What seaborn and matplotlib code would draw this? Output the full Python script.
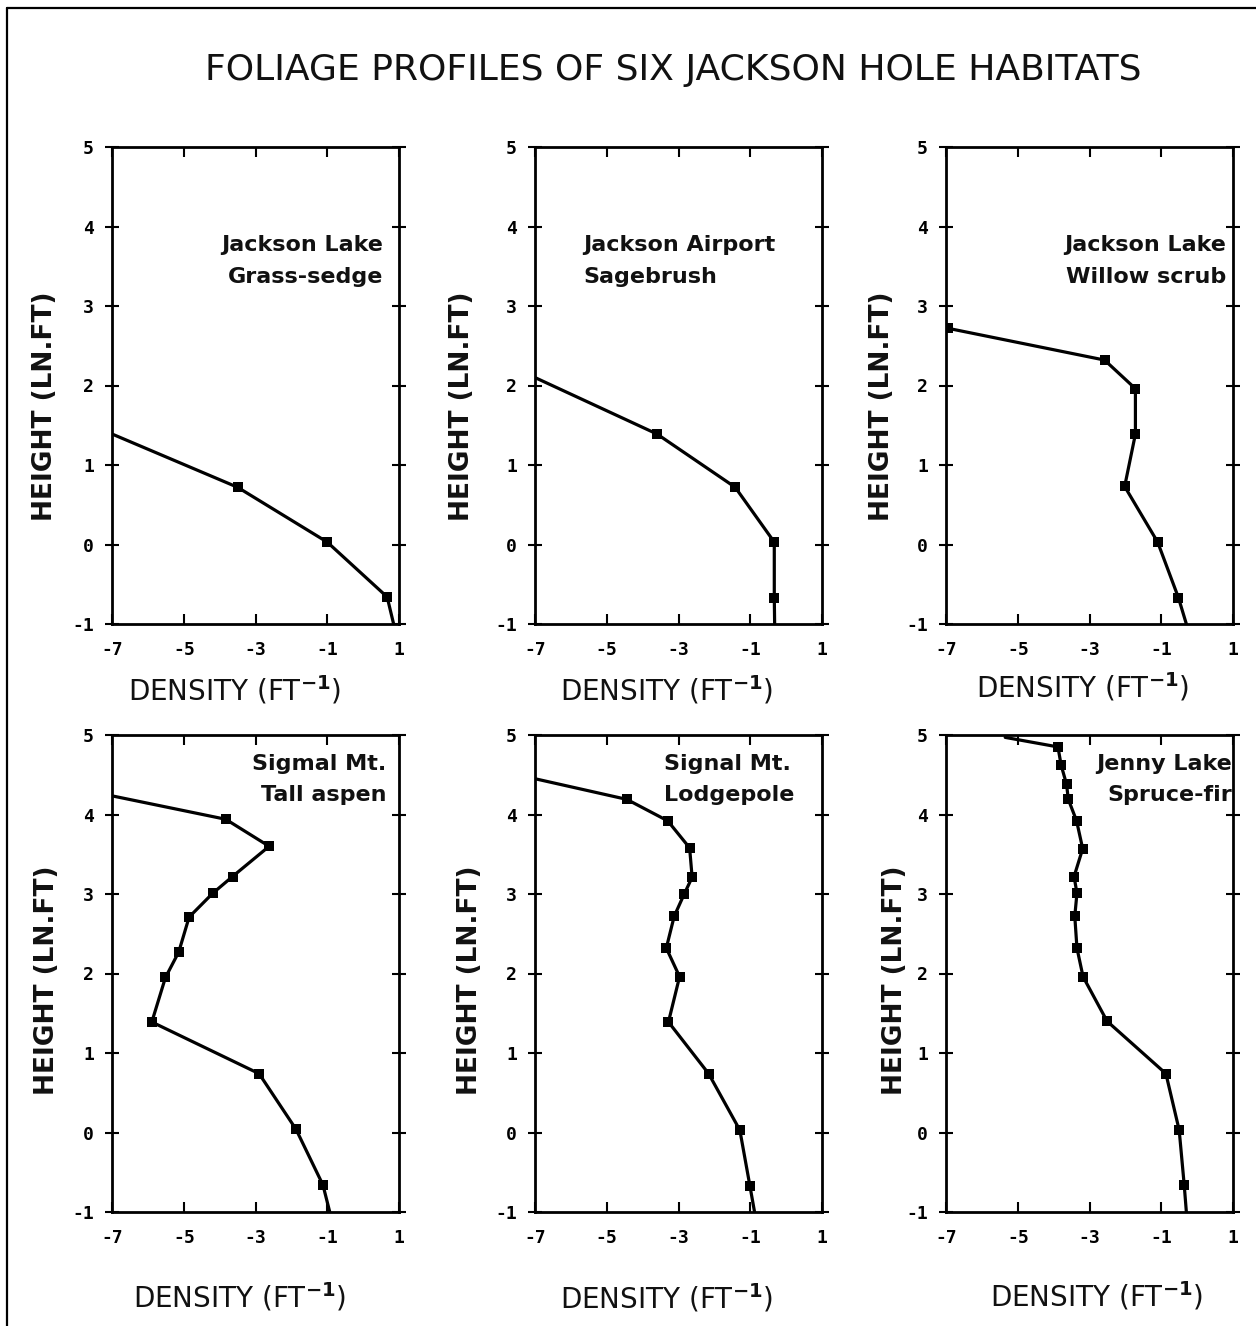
import matplotlib
matplotlib.use("Agg")
import matplotlib.pyplot as plt
import seaborn as sns
from matplotlib.lines import Line2D

sns.set_theme(style="white")
plt.rcParams['font.family'] = ['DejaVu Sans']

W, H = 1256, 1326

title = "FOLIAGE PROFILES OF SIX JACKSON HOLE HABITATS"

# panel data: density (ln per ft) against height (ln ft)
# first/last points are where the curve leaves the axes (no marker)
grass_density = [-7.0, -3.5, -1.0, 0.67, 0.85]
grass_height = [1.39, 0.72, 0.03, -0.66, -1.0]

sage_density = [-7.0, -3.6, -1.42, -0.33, -0.33, -0.32]
sage_height = [2.1, 1.39, 0.72, 0.03, -0.67, -1.0]

willow_density = [-6.95, -2.58, -1.72, -1.72, -2.02, -1.1, -0.52, -0.3]
willow_height = [2.72, 2.32, 1.96, 1.39, 0.73, 0.03, -0.67, -1.0]

aspen_density = [-6.95, -3.83, -2.62, -3.64, -4.19, -4.85, -5.14, -5.51, -5.89,
                 -2.9, -1.87, -1.12, -0.93]
aspen_height = [4.23, 3.94, 3.6, 3.22, 3.01, 2.71, 2.27, 1.95, 1.39,
                0.74, 0.04, -0.66, -1.0]

lodge_density = [-7.0, -4.44, -3.3, -2.69, -2.62, -2.84, -3.12, -3.34, -2.97,
                 -3.28, -2.16, -1.29, -1.01, -0.88]
lodge_height = [4.45, 4.19, 3.92, 3.58, 3.21, 3.0, 2.72, 2.32, 1.96,
                1.39, 0.74, 0.03, -0.67, -1.0]

spruce_density = [-5.35, -3.88, -3.79, -3.64, -3.59, -3.36, -3.19, -3.43, -3.35,
                  -3.41, -3.35, -3.18, -2.51, -0.87, -0.5, -0.36, -0.3]
spruce_height = [4.97, 4.85, 4.62, 4.38, 4.19, 3.92, 3.57, 3.22, 3.01,
                 2.72, 2.32, 1.96, 1.4, 0.74, 0.03, -0.66, -1.0]

# which points get a square marker (slice start, stop)
mark_slices = [(1, 4), (1, 5), (0, 7), (1, 12), (1, 13), (1, 16)]

series = [(grass_density, grass_height), (sage_density, sage_height),
          (willow_density, willow_height), (aspen_density, aspen_height),
          (lodge_density, lodge_height), (spruce_density, spruce_height)]

# habitat labels: (lines, x, y of first line, alignment)
labels = [
    (["Jackson Lake", "Grass-sedge"], 0.55, 3.77, "right"),
    (["Jackson Airport", "Sagebrush"], -5.65, 3.77, "left"),
    (["Jackson Lake", "Willow scrub"], 0.8, 3.77, "right"),
    (["Sigmal Mt.", "Tall aspen"], 0.65, 4.64, "right"),
    (["Signal Mt.", "Lodgepole"], -3.4, 4.64, "left"),
    (["Jenny Lake", "Spruce-fir"], 0.97, 4.64, "right"),
]

xticks = [-7, -5, -3, -1, 1]
yticks = [-1, 0, 1, 2, 3, 4, 5]

# panel boxes in pixels: left, top, width, height
col_left = [112, 535, 946]
row_top = [147, 735]
box_w, box_h = 287, 477

ylab_pos = [(45, 406), (462, 406), (882, 406), (47, 980), (470, 980), (895, 980)]
xlab_pos = [(235, 690), (667, 690), (1083, 687), (240, 1297), (667, 1298), (1097, 1296)]

fig = plt.figure(figsize=(W / 100, H / 100), dpi=100)
fig.patch.set_facecolor("white")

# outer frame (right/bottom edges run off the page)
fig.add_artist(Line2D([7 / W, 7 / W], [-0.01, 1 - 8 / H], transform=fig.transFigure, color="black", lw=1.6))
fig.add_artist(Line2D([7 / W, 1.01], [1 - 8 / H, 1 - 8 / H], transform=fig.transFigure, color="black", lw=1.6))

fig.text(673 / W, 1 - 70 / H, title, ha="center", va="center", fontsize=26, color="#111111")

for i, (dens, ht) in enumerate(series):
    r, c = divmod(i, 3)
    left, top = col_left[c], row_top[r]
    ax = fig.add_axes([left / W, 1 - (top + box_h) / H, box_w / W, box_h / H])
    ax.set_facecolor("white")

    sns.lineplot(x=dens, y=ht, sort=False, estimator=None, color="black", lw=2.3, ax=ax)
    a, b = mark_slices[i]
    sns.scatterplot(x=dens[a:b], y=ht[a:b], marker="s", s=55, color="black",
                    edgecolor="black", linewidth=0, ax=ax, zorder=5)

    ax.set_xlim(-7, 1)
    ax.set_ylim(-1, 5)
    ax.set_xticks(xticks)
    ax.set_yticks(yticks)
    ax.set_xticklabels([str(t) for t in xticks])
    ax.set_yticklabels([str(t) for t in yticks])
    ax.tick_params(axis="x", direction="in", top=True, bottom=True, length=7, width=1.5,
                   pad=12, labelsize=13, colors="black")
    ax.tick_params(axis="y", direction="inout", left=True, right=True, length=10, width=1.5,
                   pad=8, labelsize=13, colors="black")
    for lab in ax.get_xticklabels() + ax.get_yticklabels():
        lab.set_family("DejaVu Sans Mono")
        lab.set_fontweight("bold")
    for sp in ax.spines.values():
        sp.set_visible(True)
        sp.set_color("black")
        sp.set_linewidth(2)
    ax.set_xlabel("")
    ax.set_ylabel("")

    lines, tx, ty, al = labels[i]
    for k, line in enumerate(lines):
        ax.text(tx, ty - k * 0.4, line, ha=al, va="center", fontsize=16,
                fontweight="bold", color="#111111")

    yx, yy = ylab_pos[i]
    fig.text(yx / W, 1 - yy / H, "HEIGHT (LN.FT)", rotation=90, ha="center", va="center",
             fontsize=19, fontweight="bold", color="#111111")
    xx, xy = xlab_pos[i]
    fig.text(xx / W, 1 - xy / H, "DENSITY (FT$^{\\mathbf{-1}}$)", ha="center", va="center",
             fontsize=20, color="#111111")

fig.savefig("out.png", dpi=100, facecolor="white")
